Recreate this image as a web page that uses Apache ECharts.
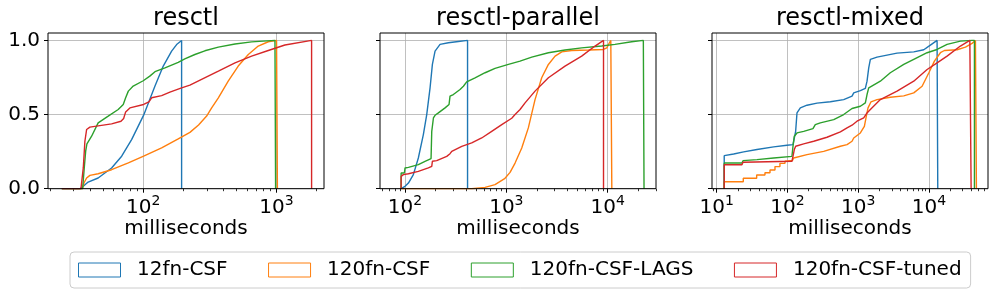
<!DOCTYPE html>
<html><head><meta charset="utf-8">
<script src="https://cdn.jsdelivr.net/npm/echarts@6/dist/echarts.min.js"></script>
<style>html,body{margin:0;padding:0;background:#fff}#c{width:997px;height:296px}</style>
</head><body><div id="c"></div>
<script>
// ---------- data ----------
const panelTitles = ['resctl', 'resctl-parallel', 'resctl-mixed'];
const seriesNames = ['12fn-CSF', '120fn-CSF', '120fn-CSF-LAGS', '120fn-CSF-tuned'];
const xAxisLabel = 'milliseconds';
const yTickValues = [0, 0.5, 1.0];
const yRange = [0, 1.05];

const xRange_resctl = [19.3, 2270];
const xRange_parallel = [56.6, 30000];
const xRange_mixed = [8.6, 68500];

const xMajor_resctl = [100, 1000];
const xMajor_parallel = [100, 1000, 10000];
const xMajor_mixed = [10, 100, 1000, 10000];

// resctl: [milliseconds, cumulative fraction]
const resctl_12fn = [[24.5,0],[33.5,0],[35.5,0.016],[38.6,0.045],[45.9,0.072],[57.9,0.14],[68.9,0.219],[81.8,0.331],[100.7,0.496],[122.5,0.692],[141.3,0.827],[163.3,0.928],[178,0.972],[194,1.0],[194,0]];
const resctl_120fn = [[24.5,0],[34.8,0],[36,0.04],[37.6,0.072],[39.8,0.09],[45.9,0.101],[57.9,0.128],[77.3,0.174],[100.7,0.219],[137.4,0.275],[183,0.336],[224,0.38],[260,0.43],[299,0.49],[326,0.545],[366,0.613],[434,0.725],[516,0.827],[614,0.905],[729,0.962],[867,0.991],[1000,1.0],[1015,1.0],[1015,0]];
const resctl_lags = [[24.5,0],[35.1,0],[36.1,0.14],[37,0.253],[37.8,0.302],[41,0.354],[45.9,0.444],[54.6,0.489],[64.9,0.534],[70.8,0.568],[73.8,0.613],[77.3,0.658],[84.1,0.692],[100,0.728],[112,0.759],[122.5,0.789],[145.5,0.815],[183,0.852],[205,0.875],[244,0.905],[290,0.93],[366,0.955],[488,0.976],[650,0.99],[973,1.0],[984,1.0],[984,0]];
const resctl_tuned = [[24.5,0],[34.1,0],[35.5,0.14],[36.5,0.32],[37.6,0.399],[39.8,0.415],[45.9,0.424],[57.9,0.437],[68.1,0.455],[71.3,0.473],[73.8,0.518],[79.4,0.545],[100.7,0.568],[110.3,0.586],[115.6,0.613],[137.4,0.628],[158.5,0.651],[194,0.68],[224,0.698],[274,0.737],[366,0.793],[488,0.849],[650,0.894],[867,0.932],[1156,0.969],[1832,1.0],[1832,0]];

// resctl-parallel
const parallel_12fn = [[91.4,0],[92.7,0],[100,0.016],[108,0.038],[120.8,0.095],[135.3,0.207],[151.6,0.365],[163.7,0.5],[176.6,0.68],[186.2,0.838],[197.8,0.928],[221.6,0.973],[267.6,0.984],[335.6,0.993],[414,1.0],[414,0]];
const parallel_120fn = [[91.4,0],[455,0],[617,0.009],[773,0.027],[970,0.07],[1088,0.11],[1219,0.173],[1419,0.275],[1648,0.41],[1919,0.601],[2233,0.748],[2600,0.838],[3027,0.894],[3524,0.923],[4425,0.932],[6455,0.935],[9080,0.939],[9810,0.95],[10400,0.984],[10740,1.0],[10990,1.0],[10990,0]];
const parallel_lags = [[91.4,0],[91.5,0.106],[98.5,0.106],[100,0.14],[108,0.144],[135.3,0.162],[157.5,0.185],[180.6,0.203],[183.5,0.387],[190.6,0.477],[197.8,0.495],[213.4,0.511],[248.4,0.545],[271.8,0.568],[278,0.624],[299.8,0.635],[349,0.669],[376.7,0.691],[406,0.72],[491,0.748],[617,0.782],[773,0.811],[1048,0.838],[1365,0.86],[1781,0.887],[2600,0.917],[3793,0.935],[5540,0.95],[8730,0.962],[11800,0.973],[17250,0.991],[22500,1.0],[22860,1.0],[22860,0]];
const parallel_tuned = [[91.4,0],[91.5,0.083],[96.2,0.095],[108,0.101],[135.3,0.117],[169.8,0.14],[183.5,0.151],[186.2,0.185],[205.4,0.189],[258,0.218],[278,0.236],[289,0.252],[363,0.286],[455,0.309],[571,0.342],[717,0.387],[901,0.432],[1130,0.475],[1219,0.5],[1365,0.534],[1530,0.579],[1919,0.658],[2600,0.748],[3793,0.827],[5540,0.894],[7510,0.962],[9100,1.0],[9100,0]];

// resctl-mixed
const mixed_12fn = [[12.8,0],[12.8,0.223],[17.4,0.234],[24.1,0.248],[37.2,0.264],[64,0.282],[98.7,0.293],[120,0.297],[125.3,0.309],[130.9,0.387],[136.7,0.511],[152.4,0.545],[189.3,0.563],[262.4,0.577],[405,0.586],[625,0.601],[820,0.624],[867,0.646],[1075,0.662],[1265,0.676],[1336,0.725],[1412,0.815],[1489,0.872],[1849,0.887],[2562,0.901],[3548,0.914],[6110,0.923],[8470,0.937],[10500,0.968],[13060,1.0],[13360,1.0],[13360,0]];
const mixed_120fn = [[12.8,0],[12.8,0.047],[23.8,0.047],[23.8,0.07],[36.8,0.07],[36.8,0.092],[48.2,0.092],[48.2,0.108],[56.8,0.108],[56.8,0.126],[66.8,0.126],[66.8,0.149],[78.5,0.149],[78.5,0.171],[92.5,0.171],[92.5,0.185],[118,0.19],[122.7,0.207],[189.3,0.23],[326,0.252],[561,0.286],[697,0.297],[820,0.32],[867,0.342],[1075,0.376],[1225,0.421],[1306,0.489],[1380,0.545],[1521,0.586],[1849,0.601],[2850,0.617],[4415,0.626],[6110,0.646],[8020,0.691],[10000,0.782],[11970,0.86],[14550,0.917],[16570,0.932],[25060,0.937],[32890,0.955],[40800,0.98],[45500,1.0],[47000,1.0],[47000,0]];
const mixed_lags = [[12.8,0],[12.8,0.173],[22.8,0.173],[23.6,0.189],[37.2,0.196],[64,0.207],[116,0.218],[120,0.286],[125.3,0.354],[136.7,0.376],[170,0.387],[230,0.405],[248,0.432],[292,0.444],[452,0.466],[625,0.5],[820,0.541],[1075,0.556],[1265,0.579],[1336,0.635],[1412,0.68],[2060,0.725],[2850,0.782],[4415,0.838],[6110,0.872],[9440,0.917],[13060,0.939],[18080,0.973],[27900,0.995],[40800,1.0],[44060,1.0],[44060,0]];
const mixed_tuned = [[12.8,0],[12.8,0.162],[22.8,0.162],[23.6,0.178],[116,0.185],[120,0.218],[125.3,0.264],[130.9,0.286],[170,0.302],[235.6,0.32],[363,0.347],[561,0.383],[697,0.41],[820,0.428],[964,0.455],[1199,0.477],[1336,0.511],[1489,0.534],[2060,0.601],[3548,0.658],[6110,0.725],[9440,0.804],[13060,0.849],[18080,0.894],[27900,0.962],[37930,1.0],[39550,1.0],[39550,0]];

// ---------- styles / layout ----------
const FONT = 'DejaVu Sans';
const COLORS = ['#1f77b4', '#ff7f0e', '#2ca02c', '#d62728'];
const GRID_LEFTS = [48, 380, 712];
const GRID_W = 276, GRID_TOP = 33, GRID_H = 155.7;

const panels = [
  {range: xRange_resctl, major: xMajor_resctl, series: [resctl_12fn, resctl_120fn, resctl_lags, resctl_tuned]},
  {range: xRange_parallel, major: xMajor_parallel, series: [parallel_12fn, parallel_120fn, parallel_lags, parallel_tuned]},
  {range: xRange_mixed, major: xMajor_mixed, series: [mixed_12fn, mixed_120fn, mixed_lags, mixed_tuned]}
];

function minorTicks(r) {
  const out = [];
  for (let d = Math.floor(Math.log10(r[0])); d <= Math.ceil(Math.log10(r[1])); d++) {
    for (let k = 2; k <= 9; k++) {
      const v = k * Math.pow(10, d);
      if (v >= r[0] && v <= r[1]) out.push(Math.log10(v));
    }
  }
  return out;
}

const grids = [], xAxes = [], yAxes = [], series = [], graphics = [];
panels.forEach((p, i) => {
  grids.push({left: GRID_LEFTS[i], top: GRID_TOP, width: GRID_W, height: GRID_H,
    show: true, borderColor: '#000', borderWidth: 1, backgroundColor: 'rgba(0,0,0,0)', z: 5,
    containLabel: false, outerBoundsMode: 'none'});
  const lr = [Math.log10(p.range[0]), Math.log10(p.range[1])];
  const majorLog = p.major.map(v => Math.log10(v));
  // data axis (log)
  xAxes.push({type: 'log', gridIndex: i, min: p.range[0], max: p.range[1], show: false});
  // major ticks, labels, grid lines
  xAxes.push({type: 'value', gridIndex: i, position: 'bottom', min: lr[0], max: lr[1],
    axisLine: {show: false},
    axisTick: {show: true, customValues: majorLog, length: 4, lineStyle: {color: '#000', width: 1}},
    axisLabel: {show: true, customValues: majorLog, margin: 6,
      formatter: v => '{n|10}{s|' + Math.round(v) + '}',
      rich: {n: {fontSize: 20, lineHeight: 26, fontFamily: FONT, color: '#000'},
             s: {fontSize: 14, lineHeight: 14, verticalAlign: 'top', fontFamily: FONT, color: '#000'}}},
    splitLine: {show: true, lineStyle: {color: '#b0b0b0', width: 0.8}}});
  // minor ticks
  xAxes.push({type: 'value', gridIndex: i, position: 'bottom', min: lr[0], max: lr[1],
    axisLine: {show: false},
    axisTick: {show: true, customValues: minorTicks(p.range), length: 2.5, lineStyle: {color: '#000', width: 0.8}},
    axisLabel: {show: false}, splitLine: {show: false}});
  yAxes.push({type: 'value', gridIndex: i, min: yRange[0], max: yRange[1],
    axisLine: {show: false},
    axisTick: {show: true, customValues: yTickValues, length: 4, lineStyle: {color: '#000', width: 1}},
    axisLabel: {show: i === 0, customValues: yTickValues, formatter: v => v.toFixed(1),
      fontSize: 20, fontFamily: FONT, color: '#000', margin: 8},
    splitLine: {show: true, lineStyle: {color: '#b0b0b0', width: 0.8}}});
  p.series.forEach((d, j) => {
    series.push({type: 'line', name: seriesNames[j], xAxisIndex: 3 * i, yAxisIndex: i,
      data: d, showSymbol: false, symbol: 'none', silent: true,
      lineStyle: {width: 1.4, color: COLORS[j]}, itemStyle: {color: COLORS[j]}});
  });
  const cx = GRID_LEFTS[i] + GRID_W / 2;
  graphics.push({type: 'text', x: cx, y: 19, style: {text: panelTitles[i], fontSize: 24, fontFamily: FONT,
    fill: '#000', align: 'center', verticalAlign: 'middle'}});
  graphics.push({type: 'text', x: cx, y: 229, style: {text: xAxisLabel, fontSize: 20, fontFamily: FONT,
    fill: '#000', align: 'center', verticalAlign: 'middle'}});
});

const chart = echarts.init(document.getElementById('c'), null, {renderer: 'canvas'});
chart.setOption({
  animation: false,
  backgroundColor: '#fff',
  grid: grids, xAxis: xAxes, yAxis: yAxes, series: series,
  graphic: graphics,
  legend: {left: 70, top: 252, orient: 'horizontal', padding: [8, 9, 8, 8], itemGap: 40.5,
    itemWidth: 42, itemHeight: 14, borderColor: '#cccccc', borderWidth: 1, borderRadius: 4,
    backgroundColor: '#fff', selectedMode: false,
    textStyle: {fontSize: 20, fontFamily: FONT, color: '#000', padding: [0, 0, 0, 11.5]},
    data: seriesNames.map((n, j) => ({name: n, icon: 'rect',
      itemStyle: {color: 'rgba(0,0,0,0)', borderColor: COLORS[j], borderWidth: 1}}))}
});
</script></body></html>
